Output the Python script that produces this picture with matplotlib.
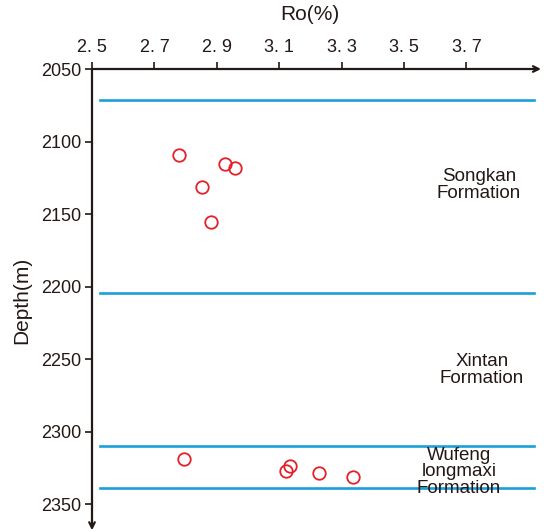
import matplotlib
matplotlib.use("Agg")
import matplotlib.pyplot as plt

plt.rcParams['font.family'] = ['Liberation Sans', 'DejaVu Sans']

# Ro (%) vs depth (m)
ro_upper = [2.779, 2.925, 2.958, 2.851, 2.883]
depth_upper = [2109.5, 2115.7, 2118.4, 2131.1, 2155.4]
ro_lower = [2.795, 3.134, 3.121, 3.226, 3.337]
depth_lower = [2319.0, 2323.8, 2327.0, 2328.6, 2331.2]

# formation boundaries
boundaries = [2071.4, 2204.4, 2309.6, 2339.0]
formations = ["Songkan\nFormation", "Xintan\nFormation", "Wufeng\nlongmaxi\nFormation"]
formation_pos = [(3.74, 2130), (3.75, 2257.4), (3.676, 2327.7)]

x_ticks = [2.5, 2.7, 2.9, 3.1, 3.3, 3.5, 3.7]
x_ticklabels = ["2. 5", "2. 7", "2. 9", "3. 1", "3. 3", "3. 5", "3. 7"]
y_ticks = [2050, 2100, 2150, 2200, 2250, 2300, 2350]

dark = '#231815'
blue = '#1a9fd8'
red = '#e5202a'

fig = plt.figure(figsize=(5.44, 5.32), dpi=100)
ax = fig.add_axes([92 / 544, 4 / 532, 449 / 544, (532 - 69 - 4) / 532])

ax.set_xlim(2.5, 2.5 + 449 / 312)
ax.set_ylim(2050 + 459 / 1.451, 2050)

for b in boundaries:
    ax.axhline(b, xmin=0.018, xmax=0.984, color=blue, lw=1.9)

ax.plot(ro_upper + ro_lower, depth_upper + depth_lower, 'o', ms=9,
        mfc='none', mec=red, mew=1.3, zorder=3)

for txt, (x, y) in zip(formations, formation_pos):
    ax.text(x, y, txt, ha='center', va='center', fontsize=13.5,
            color=dark, linespacing=0.95)

ax.xaxis.tick_top()
ax.set_xticks(x_ticks)
ax.set_xticklabels(x_ticklabels)
ax.set_yticks(y_ticks)
ax.tick_params(axis='both', colors=dark, labelsize=13, length=5, width=1.2,
               direction='out', pad=3)
ax.tick_params(axis='x', pad=4)

for s in ax.spines.values():
    s.set_visible(False)

ax.annotate('', xy=(1.0, 1.0), xytext=(0, 1.0), xycoords='axes fraction',
            arrowprops=dict(arrowstyle='->', color=dark, lw=1.6,
                            shrinkA=0, shrinkB=0), annotation_clip=False)
ax.annotate('', xy=(0, -0.005), xytext=(0, 1.0), xycoords='axes fraction',
            arrowprops=dict(arrowstyle='->', color=dark, lw=1.6,
                            shrinkA=0, shrinkB=0), annotation_clip=False)

fig.text(310 / 544, 1 - 15 / 532, 'Ro(%)', ha='center', va='center',
         fontsize=15, color=dark)
fig.text(22 / 544, 1 - 300 / 532, 'Depth(m)', ha='center', va='center',
         rotation=90, fontsize=15, color=dark)

fig.savefig('out.png', dpi=100)
